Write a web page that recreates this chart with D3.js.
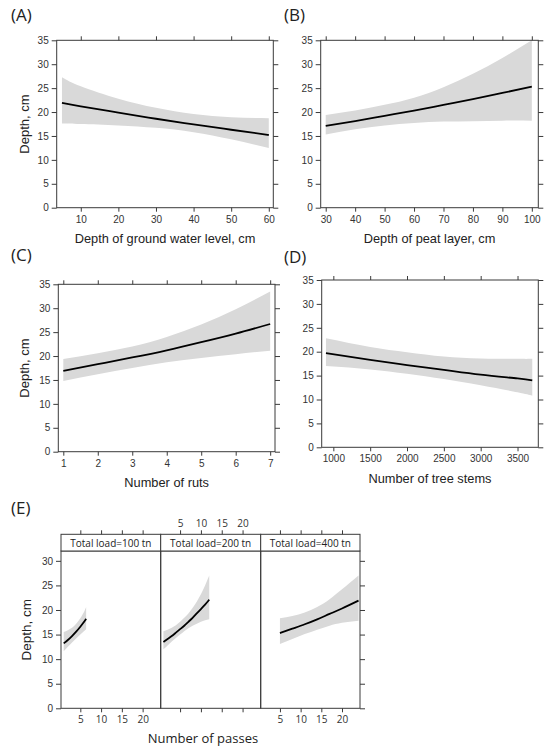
<!DOCTYPE html>
<html>
<head>
<meta charset="utf-8">
<script src="https://cdn.jsdelivr.net/npm/d3@7"></script>
<style>
  body { margin: 0; background: #fff; }
  svg { display: block; }
</style>
</head>
<body>
<svg id="chart" width="550" height="750"></svg>
<script>
// (A) depth of ground water level
const gwX     = [5, 10, 20, 30, 40, 50, 60];
const gwFit   = [21.9, 21.2, 19.9, 18.6, 17.4, 16.3, 15.2];
const gwUpper = [27.3, 25.4, 22.8, 20.9, 19.6, 18.9, 18.7];
const gwLower = [17.6, 17.5, 17.2, 16.7, 15.8, 14.3, 12.5];

// (B) depth of peat layer
const peatX     = [30, 40, 50, 60, 70, 80, 90, 100];
const peatFit   = [17.1, 18.1, 19.2, 20.3, 21.5, 22.7, 24.0, 25.3];
const peatUpper = [19.4, 20.3, 21.5, 23.0, 25.2, 28.0, 31.3, 35.0];
const peatLower = [15.3, 16.4, 17.2, 17.7, 18.0, 18.1, 18.2, 18.2];

// (C) number of ruts
const rutsX     = [1, 2, 3, 4, 5, 6, 7];
const rutsFit   = [16.9, 18.3, 19.7, 21.2, 22.9, 24.7, 26.7];
const rutsUpper = [19.4, 20.6, 22.0, 24.0, 26.6, 29.8, 33.5];
const rutsLower = [14.8, 16.2, 17.5, 18.7, 19.6, 20.4, 21.1];

// (D) number of tree stems
const stemsX     = [900, 1500, 2000, 2500, 3000, 3500, 3700];
const stemsFit   = [19.7, 18.3, 17.2, 16.2, 15.2, 14.4, 14.0];
const stemsUpper = [22.8, 21.0, 19.9, 19.0, 18.6, 18.5, 18.5];
const stemsLower = [17.0, 16.3, 15.4, 14.3, 13.0, 11.5, 10.8];

// (E) number of passes by total load
const loads = ["Total load=100 tn", "Total load=200 tn", "Total load=400 tn"];
const pass100X     = [1, 2, 3, 4, 5, 6, 6.4];
const pass100Fit   = [13.2, 13.9, 14.7, 15.6, 16.6, 17.7, 18.2];
const pass100Upper = [15.5, 15.9, 16.4, 17.2, 18.3, 19.8, 20.6];
const pass100Lower = [11.6, 12.5, 13.4, 14.2, 15.0, 15.8, 16.1];
const pass200X     = [1, 2, 3, 4, 5, 6, 7, 8, 9, 10, 11, 12];
const pass200Fit   = [13.5, 14.1, 14.7, 15.4, 16.1, 16.8, 17.6, 18.4, 19.3, 20.2, 21.1, 22.1];
const pass200Upper = [15.7, 16.0, 16.4, 16.9, 17.6, 18.4, 19.3, 20.4, 21.7, 23.2, 25.0, 27.0];
const pass200Lower = [12.0, 12.8, 13.6, 14.3, 15.0, 15.7, 16.3, 16.8, 17.2, 17.6, 17.9, 18.1];
const pass400X     = [5, 8, 11, 14, 17, 20, 24];
const pass400Fit   = [15.3, 16.2, 17.1, 18.1, 19.2, 20.3, 21.9];
const pass400Upper = [18.3, 18.8, 19.5, 20.6, 22.2, 24.2, 27.0];
const pass400Lower = [13.1, 14.1, 15.1, 16.0, 16.8, 17.4, 17.8];

const depthTicks = [0, 5, 10, 15, 20, 25, 30, 35];
const passTicks = [5, 10, 15, 20];

const svg = d3.select("#chart");
const arial = "'Liberation Sans', Arial, sans-serif";
const segoe = "'Open Sans', 'Noto Sans', sans-serif";
const frameCol = "#3a3a3a";
const bandCol = "#d9d9d9";

function rows(xs, fit, up, lo) {
  return xs.map((x, i) => ({x: x, y: fit[i], hi: up[i], lo: lo[i]}));
}

function drawAxes(g, x, y, xTicks, yTicks, opts) {
  const [x0, x1] = x.range(), [y0, y1] = y.range();
  const ax = (gen, tx, ty) => {
    const a = g.append("g").attr("transform", `translate(${tx},${ty})`).call(gen);
    a.select(".domain").remove();
    a.selectAll("line").attr("stroke", frameCol);
    a.selectAll("text").style("font-family", opts.font || arial).style("font-size", "10px").attr("fill", "#333");
    return a;
  };
  if (opts.bottom) ax(d3.axisBottom(x).tickValues(xTicks).tickSize(4).tickPadding(4)
      .tickFormat(opts.bottomLabels === false ? "" : d3.format("d")), 0, y0);
  if (opts.top) ax(d3.axisTop(x).tickValues(xTicks).tickSize(4).tickPadding(3)
      .tickFormat(opts.topLabels ? d3.format("d") : ""), 0, y1);
  if (opts.left) ax(d3.axisLeft(y).tickValues(yTicks).tickSize(5).tickPadding(3), x0, 0);
  if (opts.right) ax(d3.axisRight(y).tickValues(yTicks).tickSize(5).tickFormat(""), x1, 0);
}

function drawCurve(g, x, y, data) {
  g.append("path").datum(data)
    .attr("d", d3.area().x(d => x(d.x)).y0(d => y(d.lo)).y1(d => y(d.hi)).curve(d3.curveNatural))
    .attr("fill", bandCol);
  g.append("path").datum(data)
    .attr("d", d3.line().x(d => x(d.x)).y(d => y(d.y)).curve(d3.curveNatural))
    .attr("fill", "none").attr("stroke", "#000").attr("stroke-width", 1.8);
}

function panel(p) {
  const g = svg.append("g");
  const x = d3.scaleLinear().domain(p.xDom).range(p.xRange);
  const y = d3.scaleLinear().domain([0, 35]).range(p.yRange);
  drawCurve(g, x, y, p.data);
  g.append("rect")
    .attr("x", p.xRange[0]).attr("y", p.yRange[1])
    .attr("width", p.xRange[1] - p.xRange[0]).attr("height", p.yRange[0] - p.yRange[1])
    .attr("fill", "none").attr("stroke", frameCol).attr("stroke-width", 1);
  drawAxes(g, x, y, p.xTicks, depthTicks, {bottom: true, top: true, left: true, right: true});
  g.append("text").attr("x", p.label[0]).attr("y", p.label[1])
    .style("font-family", segoe).style("font-size", "17px").attr("fill", "#222").text(p.tag);
  const midX = (p.xRange[0] + p.xRange[1]) / 2;
  g.append("text").attr("x", midX).attr("y", p.yRange[0] + 35.5)
    .attr("text-anchor", "middle")
    .style("font-family", arial).style("font-size", "12.8px").attr("fill", "#222").text(p.xTitle);
  if (p.yTitle) {
    const midY = (p.yRange[0] + p.yRange[1]) / 2;
    g.append("text").attr("transform", `translate(29,${midY}) rotate(-90)`)
      .attr("text-anchor", "middle")
      .style("font-family", arial).style("font-size", "13px").attr("fill", "#222").text("Depth, cm");
  }
}

panel({tag: "(A)", label: [11, 21], xDom: [3.6, 61.2], xRange: [56.7, 273.3], yRange: [207.7, 40.3],
  xTicks: [10, 20, 30, 40, 50, 60], xTitle: "Depth of ground water level, cm", yTitle: true,
  data: rows(gwX, gwFit, gwUpper, gwLower)});
panel({tag: "(B)", label: [284, 21], xDom: [28.3, 102.2], xRange: [320.7, 538.3], yRange: [207.7, 40.3],
  xTicks: [30, 40, 50, 60, 70, 80, 90, 100], xTitle: "Depth of peat layer, cm", yTitle: false,
  data: rows(peatX, peatFit, peatUpper, peatLower)});
panel({tag: "(C)", label: [11, 261], xDom: [0.855, 7.14], xRange: [58.3, 275], yRange: [451.7, 284.3],
  xTicks: [1, 2, 3, 4, 5, 6, 7], xTitle: "Number of ruts", yTitle: true,
  data: rows(rutsX, rutsFit, rutsUpper, rutsLower)});
panel({tag: "(D)", label: [284, 263], xDom: [842, 3782], xRange: [321.7, 538.3], yRange: [447.3, 280],
  xTicks: [1000, 1500, 2000, 2500, 3000, 3500], xTitle: "Number of tree stems", yTitle: false,
  data: rows(stemsX, stemsFit, stemsUpper, stemsLower)});

// (E) lattice-style panels
const eData = [
  rows(pass100X, pass100Fit, pass100Upper, pass100Lower),
  rows(pass200X, pass200Fit, pass200Upper, pass200Lower),
  rows(pass400X, pass400Fit, pass400Upper, pass400Lower)
];
const eEdges = [61, 160.7, 260.7, 360];
const eTop = 551, eBottom = 708.3, stripTop = 534.3;
const eY = d3.scaleLinear().domain([0, 32]).range([eBottom, eTop]);
const gE = svg.append("g");
loads.forEach((name, i) => {
  const x = d3.scaleLinear().domain([0.35, 24.35]).range([eEdges[i], eEdges[i + 1]]);
  drawCurve(gE, x, eY, eData[i]);
  gE.append("rect").attr("x", eEdges[i]).attr("y", eTop)
    .attr("width", eEdges[i + 1] - eEdges[i]).attr("height", eBottom - eTop)
    .attr("fill", "none").attr("stroke", frameCol);
  gE.append("rect").attr("x", eEdges[i]).attr("y", stripTop)
    .attr("width", eEdges[i + 1] - eEdges[i]).attr("height", eTop - stripTop)
    .attr("fill", "#fff").attr("stroke", frameCol);
  gE.append("text").attr("x", (eEdges[i] + eEdges[i + 1]) / 2).attr("y", eTop - 4.5)
    .attr("text-anchor", "middle").style("font-family", segoe).style("font-size", "10px")
    .attr("fill", "#222").text(name);
  const yTop = d3.scaleLinear().domain([0, 32]).range([eBottom, stripTop]);
  drawAxes(gE, x, yTop, passTicks, [0, 5, 10, 15, 20, 25, 30],
    {bottom: true, bottomLabels: i !== 1, top: true, topLabels: i === 1, font: segoe});
});
drawAxes(gE, d3.scaleLinear().range([eEdges[0], eEdges[3]]), eY, [], [0, 5, 10, 15, 20, 25, 30],
  {left: true, right: true});
gE.append("text").attr("x", 11).attr("y", 514)
  .style("font-family", segoe).style("font-size", "17px").attr("fill", "#222").text("(E)");
gE.append("text").attr("transform", `translate(31,${(eTop + eBottom) / 2}) rotate(-90)`)
  .attr("text-anchor", "middle").style("font-family", arial).style("font-size", "13.5px")
  .attr("fill", "#222").text("Depth, cm");
gE.append("text").attr("x", 203).attr("y", 743).attr("text-anchor", "middle")
  .style("font-family", segoe).style("font-size", "13px").attr("fill", "#222").text("Number of passes");
</script>
</body>
</html>
